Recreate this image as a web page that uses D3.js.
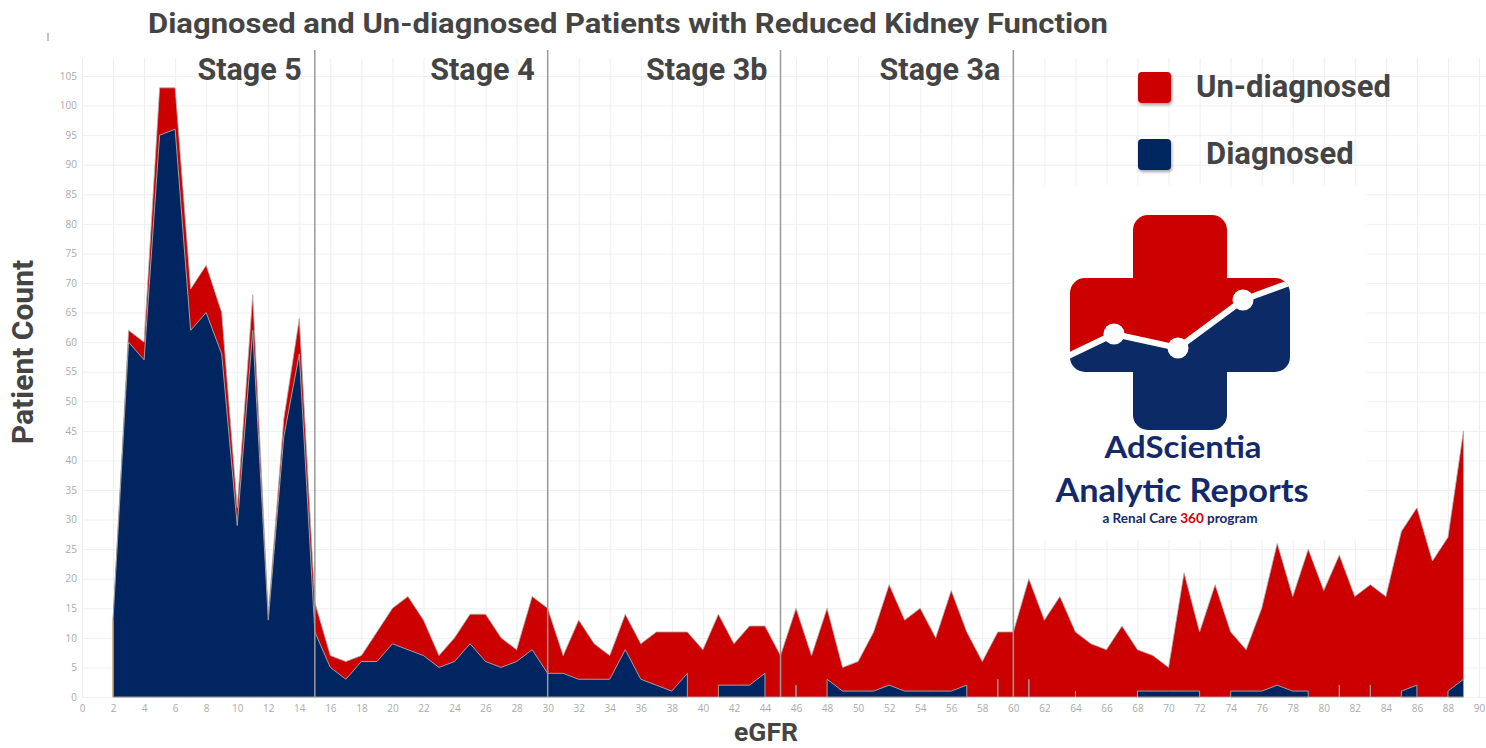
<!DOCTYPE html>
<html lang="en">
<head>
    <meta charset="UTF-8">
    <title>Diagnosed and Un-diagnosed Patients</title>
    <script src="https://d3js.org/d3.v7.min.js"></script>
    <style>
        body { margin: 0; background: #fff; }
        svg { display: block; }
        .grid line { stroke: #efefef; stroke-width: 1; }
        .grid text { fill: #aaa; font-family: "Open Sans", sans-serif; font-size: 10px; }
        .big { font-family: Roboto, sans-serif; font-weight: 700; fill: #444; }
    </style>
</head>
<body>
<svg id="chart" width="1486" height="748"></svg>

<script>
    // eGFR values on the x axis (one point per integer value)
    const egfr = d3.range(2, 90);

    // top of the red area: all patients at each eGFR
    const allPatients = [13, 62, 60, 103, 103, 69, 73, 65, 32, 68, 14, 47, 64, 16,
        7, 6, 7, 11, 15, 17, 13, 7, 10, 14, 14, 10, 8, 17, 15,
        7, 13, 9, 7, 14, 9, 11, 11, 11, 8, 14, 9, 12, 12, 7,
        15, 7, 15, 5, 6, 11, 19, 13, 15, 10, 18, 11, 6, 11, 11,
        20, 13, 17, 11, 9, 8, 12, 8, 7, 5, 21, 11, 19, 11, 8,
        15, 26, 17, 25, 18, 24, 17, 19, 17, 28, 32, 23, 27, 45];

    // blue area: diagnosed patients (null = no value, area breaks)
    const diagnosed = [13, 60, 57, 95, 96, 62, 65, 58, 29, 62, 13, 44, 58, 11,
        5, 3, 6, 6, 9, 8, 7, 5, 6, 9, 6, 5, 6, 8, 4,
        4, 3, 3, 3, 8, 3, 2, 1, 4, null, 2, 2, 2, 4, null,
        2, null, 3, 1, 1, 1, 2, 1, 1, 1, 1, 2, null, 3, null,
        3, null, null, 1, null, null, null, 1, 1, 1, 1, 1, null, 1, 1,
        1, 2, 1, 1, null, 2, null, 2, null, 1, 2, null, 1, 3];

    const stageNames = ["Stage 5", "Stage 4", "Stage 3b", "Stage 3a"];
    const stageEnds = [15, 30, 45, 60];

    const xTicks = d3.range(0, 91, 2);
    const yTicks = d3.range(0, 106, 5);

    const seriesNames = ["Un-diagnosed", "Diagnosed"];
    const seriesColors = ["#cc0000", "#012561"];

    const data = egfr.map((e, i) => ({egfr: e, total: allPatients[i], diag: diagnosed[i]}));

    const svg = d3.select("#chart");
    const W = 1486, gridTop = 58;

    const x = d3.scaleLinear().domain([0, 90]).range([82, 1479]);
    const y = d3.scaleLinear().domain([0, 105]).range([697, 76]);

    // drop shadow for legend swatches
    const defs = svg.append("defs");
    const shadow = defs.append("filter").attr("id", "shadow")
        .attr("x", "-30%").attr("y", "-30%").attr("width", "160%").attr("height", "160%");
    shadow.append("feDropShadow").attr("dx", 1).attr("dy", 2)
        .attr("stdDeviation", 1.5).attr("flood-color", "#000").attr("flood-opacity", 0.35);

    // grid + tick labels
    svg.append("g").attr("class", "grid")
        .attr("transform", `translate(0,${y(0)})`)
        .call(d3.axisBottom(x).tickValues(xTicks).tickSize(-(y(0) - gridTop)).tickPadding(8))
        .call(g => g.select(".domain").remove());

    svg.append("g").attr("class", "grid")
        .attr("transform", `translate(${x(0)},0)`)
        .call(d3.axisLeft(y).tickValues(yTicks).tickSize(-(W - x(0))).tickPadding(5))
        .call(g => g.select(".domain").remove());

    // white panel behind the logo
    svg.append("rect").attr("x", 1014).attr("y", 185).attr("width", 353).attr("height", 355).attr("fill", "#fff");

    // areas
    const totalArea = d3.area()
        .x(d => x(d.egfr)).y0(y(0)).y1(d => y(d.total));
    const diagArea = d3.area()
        .defined(d => d.diag != null)
        .x(d => x(d.egfr)).y0(y(0)).y1(d => y(d.diag));

    svg.append("path").datum(data)
        .attr("d", totalArea)
        .attr("fill", seriesColors[0])
        .attr("stroke", "#b0b0b0").attr("stroke-width", 0.8);

    svg.append("path").datum(data)
        .attr("d", diagArea)
        .attr("fill", seriesColors[1])
        .attr("stroke", "#a0a0a0").attr("stroke-width", 1);

    // thin orange edge at the first eGFR value
    svg.append("line").datum(data[0])
        .attr("x1", d => x(d.egfr)).attr("x2", d => x(d.egfr))
        .attr("y1", y(0)).attr("y2", d => y(d.diag))
        .attr("stroke", "#e8a050").attr("stroke-width", 1);

    // stage boundaries and labels
    svg.selectAll(".stage-line").data(stageEnds).join("line")
        .attr("x1", d => x(d)).attr("x2", d => x(d))
        .attr("y1", 50).attr("y2", y(0))
        .attr("stroke", "#9a9a9a").attr("stroke-width", 1.5);

    svg.selectAll(".stage-label").data(stageNames).join("text")
        .attr("class", "big")
        .attr("x", (d, i) => x(stageEnds[i]) - 13)
        .attr("y", 80)
        .attr("text-anchor", "end")
        .attr("font-size", 30.5)
        .text(d => d);

    // title
    svg.append("text").attr("class", "big")
        .attr("x", 148).attr("y", 33)
        .attr("font-size", 28)
        .attr("textLength", 960).attr("lengthAdjust", "spacingAndGlyphs")
        .text("Diagnosed and Un-diagnosed Patients with Reduced Kidney Function");

    svg.append("line").attr("x1", 48).attr("x2", 48).attr("y1", 33).attr("y2", 41)
        .attr("stroke", "#888").attr("stroke-width", 1);

    // axis titles
    svg.append("text").attr("class", "big")
        .attr("transform", "translate(33,352) rotate(-90)")
        .attr("text-anchor", "middle").attr("font-size", 30)
        .text("Patient Count");

    svg.append("text").attr("class", "big")
        .attr("x", 766).attr("y", 741)
        .attr("text-anchor", "middle").attr("font-size", 26.5)
        .text("eGFR");

    // legend
    const legendY = [72, 139];
    const legendTextX = [1196, 1206];
    const legend = svg.selectAll(".legend").data(seriesNames).join("g");
    legend.append("rect")
        .attr("x", 1138).attr("y", (d, i) => legendY[i])
        .attr("width", 33).attr("height", 31).attr("rx", 4)
        .attr("fill", (d, i) => seriesColors[i])
        .attr("filter", "url(#shadow)");
    legend.append("text").attr("class", "big")
        .attr("x", (d, i) => legendTextX[i]).attr("y", (d, i) => legendY[i] + 25)
        .attr("font-size", 31)
        .text(d => d);

    // logo
    const logo = svg.append("g");
    const clip = defs.append("clipPath").attr("id", "cross");
    clip.append("rect").attr("x", 1133).attr("y", 215).attr("width", 94).attr("height", 215).attr("rx", 15);
    clip.append("rect").attr("x", 1070).attr("y", 278).attr("width", 220).attr("height", 94).attr("rx", 15);

    const trend = [[1060, 360], [1114, 334], [1178, 348], [1243, 300], [1300, 279]];
    const inner = logo.append("g").attr("clip-path", "url(#cross)");
    inner.append("path")
        .attr("d", d3.line()(trend.concat([[1300, 200], [1060, 200]])) + "Z")
        .attr("fill", seriesColors[0]);
    inner.append("path")
        .attr("d", d3.line()(trend.concat([[1300, 440], [1060, 440]])) + "Z")
        .attr("fill", "#0b2a66");
    inner.append("path")
        .attr("d", d3.line()(trend))
        .attr("fill", "none").attr("stroke", "#fff").attr("stroke-width", 6);
    logo.selectAll("circle").data(trend.slice(1, 4)).join("circle")
        .attr("cx", d => d[0]).attr("cy", d => d[1]).attr("r", 10.5)
        .attr("fill", "#fff");

    const logoFont = "Lato, 'Open Sans', sans-serif";
    logo.append("text")
        .attr("x", 1183).attr("y", 458).attr("text-anchor", "middle")
        .attr("font-family", logoFont).attr("font-weight", 700).attr("font-size", 31)
        .attr("fill", "#13296a")
        .attr("textLength", 157).attr("lengthAdjust", "spacingAndGlyphs")
        .text("AdScientia");
    logo.append("text")
        .attr("x", 1182).attr("y", 502).attr("text-anchor", "middle")
        .attr("font-family", logoFont).attr("font-weight", 700).attr("font-size", 32)
        .attr("fill", "#13296a")
        .attr("textLength", 253).attr("lengthAdjust", "spacingAndGlyphs")
        .text("Analytic Reports");
    const tag = logo.append("text")
        .attr("x", 1180).attr("y", 523).attr("text-anchor", "middle")
        .attr("font-family", logoFont).attr("font-weight", 700).attr("font-size", 13.5)
        .attr("fill", "#13296a");
    tag.append("tspan").text("a Renal Care ");
    tag.append("tspan").attr("fill", "#d40000").text("360");
    tag.append("tspan").text(" program");
</script>
</body>
</html>
